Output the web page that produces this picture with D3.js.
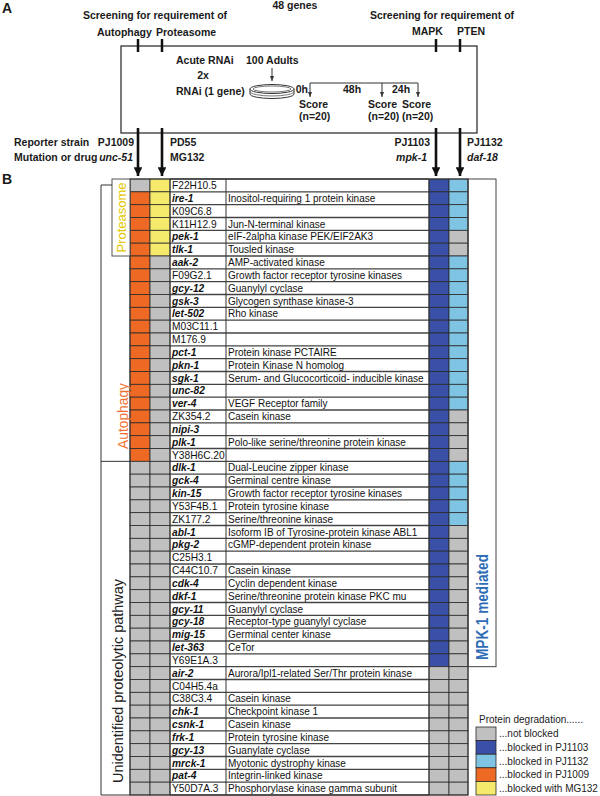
<html>
<head>
<meta charset="UTF-8">
<script src="https://unpkg.com/d3@7/dist/d3.min.js"></script>
<style>body{margin:0;background:#fff}</style>
</head>
<body>
<script>
// ---- data ----
var genes = ["F22H10.5","ire-1","K09C6.8","K11H12.9","pek-1","tlk-1","aak-2","F09G2.1","gcy-12","gsk-3",
  "let-502","M03C11.1","M176.9","pct-1","pkn-1","sgk-1","unc-82","ver-4","ZK354.2","nipi-3",
  "plk-1","Y38H6C.20","dlk-1","gck-4","kin-15","Y53F4B.1","ZK177.2","abl-1","pkg-2","C25H3.1",
  "C44C10.7","cdk-4","dkf-1","gcy-11","gcy-18","mig-15","let-363","Y69E1A.3","air-2","C04H5.4a",
  "C38C3.4","chk-1","csnk-1","frk-1","gcy-13","mrck-1","pat-4","Y50D7A.3"];

var descriptions = ["","Inositol-requiring 1 protein kinase","","Jun-N-terminal kinase","eIF-2alpha kinase PEK/EIF2AK3",
  "Tousled kinase","AMP-activated kinase","Growth factor receptor tyrosine kinases","Guanylyl cyclase","Glycogen synthase kinase-3",
  "Rho kinase","","","Protein kinase PCTAIRE","Protein Kinase N homolog",
  "Serum- and Glucocorticoid- inducible kinase","","VEGF Receptor family","Casein kinase","",
  "Polo-like serine/threonine protein kinase","","Dual-Leucine zipper kinase","Germinal centre kinase","Growth factor receptor tyrosine kinases",
  "Protein tyrosine kinase","Serine/threonine kinase","Isoform IB of Tyrosine-protein kinase ABL1","cGMP-dependent protein kinase","",
  "Casein kinase","Cyclin dependent kinase","Serine/threonine protein kinase PKC mu","Guanylyl cyclase","Receptor-type guanylyl cyclase",
  "Germinal center kinase","CeTor","","Aurora/Ipl1-related Ser/Thr protein kinase","",
  "Casein kinase","Checkpoint kinase 1","Casein kinase","Protein tyrosine kinase","Guanylate cyclase",
  "Myotonic dystrophy kinase","Integrin-linked kinase","Phosphorylase kinase gamma subunit"];

// 1 = degradation blocked, 0 = not blocked
var pj1009 = [0,1,1,1,1,1,1,1,1,1, 1,1,1,1,1,1,1,1,1,1, 1,1,0,0,0,0,0,0,0,0,
              0,0,0,0,0,0,0,0,0,0, 0,0,0,0,0,0,0,0];
var mg132  = [1,1,1,1,1,1,0,0,0,0, 0,0,0,0,0,0,0,0,0,0, 0,0,0,0,0,0,0,0,0,0,
              0,0,0,0,0,0,0,0,0,0, 0,0,0,0,0,0,0,0];
var pj1103 = [1,1,1,1,1,1,1,1,1,1, 1,1,1,1,1,1,1,1,1,1, 1,1,1,1,1,1,1,1,1,1,
              1,1,1,1,1,1,1,1,0,0, 0,0,0,0,0,0,0,0];
var pj1132 = [1,1,1,1,0,0,1,1,1,1, 1,1,1,1,1,1,1,1,0,0, 0,0,1,1,1,1,1,0,0,0,
              0,0,0,0,0,0,0,0,0,0, 0,0,0,0,0,0,0,0];

var groups = [
  {name: "Proteasome", first: 0, last: 5},
  {name: "Autophagy", first: 6, last: 21},
  {name: "Unidentified proteolytic pathway", first: 22, last: 47}
];
var mpkLabel = "MPK-1 mediated";
var legendTitle = "Protein degradation......";
var legendLabels = ["...not blocked","...blocked in PJ1103","...blocked in PJ1132","...blocked in PJ1009","...blocked with MG132"];

// ---- colors ----
var gray = "#c0c0c0", dblue = "#3a50a6", lblue = "#80c4e4", orange = "#ee6a24", yellow = "#f6ea6c";
var legendColors = [gray, dblue, lblue, orange, yellow];

var width = 600, height = 796;
var font = "'Liberation Sans', Arial, sans-serif";

var svg = d3.select("body").append("svg")
  .attr("width", width).attr("height", height)
  .style("font-family", font);

var defs = svg.append("defs");
defs.append("marker")
  .attr("id", "head").attr("viewBox", "0 0 10 10")
  .attr("refX", 10).attr("refY", 5)
  .attr("markerWidth", 3.4).attr("markerHeight", 3.4)
  .attr("markerUnits", "strokeWidth")
  .attr("orient", "auto")
  .append("path").attr("d", "M0,0L10,5L0,10z").attr("fill", "#111");
defs.append("marker")
  .attr("id", "thin").attr("viewBox", "0 0 10 10")
  .attr("refX", 10).attr("refY", 5)
  .attr("markerWidth", 5).attr("markerHeight", 5)
  .attr("markerUnits", "strokeWidth")
  .attr("orient", "auto")
  .append("path").attr("d", "M0,1L10,5L0,9z").attr("fill", "#333");

// ================= Panel A =================
var A = svg.append("g").attr("fill", "#1a1a1a").style("font-weight", "bold");

function txt(g, s, x, yy, opt) {
  opt = opt || {};
  return g.append("text").attr("x", x).attr("y", yy)
    .attr("text-anchor", opt.anchor || "start")
    .style("font-size", (opt.size || 10.5) + "px")
    .style("font-style", opt.italic ? "italic" : "normal")
    .text(s);
}

txt(A, "A", 2, 13, {size: 14});
txt(A, "B", 2, 184, {size: 14});
txt(A, "48 genes", 295, 9, {anchor: "middle"});
txt(A, "Screening for requirement of", 155, 19, {anchor: "middle"});
txt(A, "Screening for requirement of", 442, 19, {anchor: "middle"});
txt(A, "Autophagy", 97, 36);
txt(A, "Proteasome", 156, 36);
txt(A, "MAPK", 412, 35);
txt(A, "PTEN", 457, 35);

A.append("rect").attr("x", 121).attr("y", 46).attr("width", 356).attr("height", 87)
  .attr("fill", "none").attr("stroke", "#222").attr("stroke-width", 1.2);

var screenX = [138, 162, 436, 460];
A.selectAll(".tick").data(screenX).enter().append("line")
  .attr("x1", d => d).attr("x2", d => d).attr("y1", 39).attr("y2", 52)
  .attr("stroke", "#111").attr("stroke-width", 2.5);
A.selectAll(".arr").data(screenX).enter().append("line")
  .attr("x1", d => d).attr("x2", d => d).attr("y1", 128).attr("y2", 176)
  .attr("stroke", "#111").attr("stroke-width", 2.6)
  .attr("marker-end", "url(#head)");

txt(A, "Acute RNAi", 176, 64);
txt(A, "2x", 203, 79, {anchor: "middle"});
txt(A, "RNAi (1 gene)", 176, 95);
txt(A, "100 Adults", 246, 64);
A.append("line").attr("x1", 272).attr("x2", 272).attr("y1", 68).attr("y2", 81)
  .attr("stroke", "#333").attr("stroke-width", 1).attr("marker-end", "url(#thin)");
// dish
A.append("path").attr("d", "M250,89 L250,94 A22,4.5 0 0 0 294,94 L294,89")
  .attr("fill", "none").attr("stroke", "#333").attr("stroke-width", 1);
A.append("ellipse").attr("cx", 272).attr("cy", 89).attr("rx", 22).attr("ry", 4.5)
  .attr("fill", "#fff").attr("stroke", "#333").attr("stroke-width", 1);
A.append("ellipse").attr("cx", 272).attr("cy", 89).attr("rx", 19).attr("ry", 3)
  .attr("fill", "none").attr("stroke", "#555").attr("stroke-width", 0.8);
A.append("path").attr("d", "M250,91.5 A22,4.5 0 0 0 294,91.5")
  .attr("fill", "none").attr("stroke", "#555").attr("stroke-width", 0.8);

// timeline
var scoreX = [310, 382, 418];
A.append("line").attr("x1", 310).attr("x2", 418).attr("y1", 83).attr("y2", 83)
  .attr("stroke", "#333").attr("stroke-width", 1);
A.selectAll(".tl").data(scoreX).enter().append("line")
  .attr("x1", d => d).attr("x2", d => d).attr("y1", 83).attr("y2", 97)
  .attr("stroke", "#333").attr("stroke-width", 1).attr("marker-end", "url(#thin)");
txt(A, "0h", 308, 93, {anchor: "end"});
txt(A, "48h", 352, 93, {anchor: "middle"});
txt(A, "24h", 401, 93, {anchor: "middle"});
[299, 368, 402].forEach(function(x) {
  txt(A, "Score", x, 108);
  txt(A, "(n=20)", x, 120);
});

txt(A, "Reporter strain", 14, 146);
txt(A, "Mutation or drug", 14, 161);
txt(A, "PJ1009", 134, 146, {anchor: "end"});
txt(A, "unc-51", 133, 161, {anchor: "end", italic: true});
txt(A, "PD55", 170, 146);
txt(A, "MG132", 170, 161);
txt(A, "PJ1103", 430, 146, {anchor: "end"});
txt(A, "mpk-1", 427, 161, {anchor: "end", italic: true});
txt(A, "PJ1132", 467, 146);
txt(A, "daf-18", 467, 161, {italic: true});

// ================= Panel B =================
var tableTop = 179, tableBottom = 795;
var y = d3.scaleBand().domain(d3.range(genes.length)).range([tableTop, tableBottom]);
var h = y.bandwidth();

var xOrange = 130, xYellow = 150, xGene = 170, xDesc = 226, xBlue = 429, xLBlue = 449, xEnd = 468, xMpk = 496;
var cw = 20;

var B = svg.append("g");

var colorCols = [
  {vals: pj1009, x: xOrange, w: cw, on: orange},
  {vals: mg132, x: xYellow, w: cw, on: yellow},
  {vals: pj1103, x: xBlue, w: cw, on: dblue},
  {vals: pj1132, x: xLBlue, w: xEnd - xLBlue, on: lblue}
];
colorCols.forEach(function(c) {
  B.append("g").selectAll("rect").data(c.vals).enter().append("rect")
    .attr("x", c.x).attr("y", (d, i) => y(i))
    .attr("width", c.w).attr("height", h)
    .attr("fill", d => d ? c.on : gray)
    .attr("stroke", "#2a2a2a").attr("stroke-width", 0.8);
});

// row lines in text area
B.append("g").selectAll("line").data(d3.range(genes.length + 1)).enter().append("line")
  .attr("x1", xGene).attr("x2", xBlue)
  .attr("y1", i => i < genes.length ? y(i) : tableBottom)
  .attr("y2", i => i < genes.length ? y(i) : tableBottom)
  .attr("stroke", "#444").attr("stroke-width", 1.3);
[xGene, xDesc, xBlue].forEach(function(x) {
  B.append("line").attr("x1", x).attr("x2", x).attr("y1", tableTop).attr("y2", tableBottom)
    .attr("stroke", "#333").attr("stroke-width", 1);
});

B.append("g").selectAll("text").data(genes).enter().append("text")
  .attr("x", xGene + 2).attr("y", (d, i) => y(i) + h / 2 + 3.6)
  .style("font-size", "10.2px")
  .style("font-weight", d => /-/.test(d) ? "bold" : "normal")
  .style("font-style", d => /-/.test(d) ? "italic" : "normal")
  .attr("fill", "#111")
  .text(d => d);
B.append("g").selectAll("text").data(descriptions).enter().append("text")
  .attr("x", xDesc + 2).attr("y", (d, i) => y(i) + h / 2 + 3.6)
  .style("font-size", "10px").attr("fill", "#111")
  .text(d => d);

// outer frame
B.append("rect").attr("x", xOrange).attr("y", tableTop).attr("width", xEnd - xOrange).attr("height", tableBottom - tableTop)
  .attr("fill", "none").attr("stroke", "#333").attr("stroke-width", 1);

// group brackets
var bx = 101;
var g0 = groups[0], g1 = groups[1], g2 = groups[2];
B.append("rect").attr("x", 112).attr("y", y(g0.first))
  .attr("width", xOrange - 112).attr("height", y(g0.last) + h - y(g0.first))
  .attr("fill", "#fff").attr("stroke", "#555").attr("stroke-width", 1);
B.append("path")
  .attr("d", "M112," + (tableTop + 6) + "H" + bx + "V" + tableBottom + "H" + xOrange +
             "M" + bx + "," + (y(g2.first)) + "H" + xOrange)
  .attr("fill", "none").attr("stroke", "#333").attr("stroke-width", 1);

function vlabel(s, cx, cy, size, color, weight, len) {
  var t = B.append("text")
    .attr("transform", "translate(" + cx + "," + cy + ") rotate(-90)")
    .attr("text-anchor", "middle").attr("dy", "0.35em")
    .style("font-size", size + "px").style("font-weight", weight)
    .attr("fill", color).text(s);
  if (len) t.attr("textLength", len).attr("lengthAdjust", "spacingAndGlyphs");
  return t;
}
vlabel(g0.name, 121, (y(g0.first) + y(g0.last) + h) / 2, 13.5, "#e2c800", "normal", 70);
vlabel(g1.name, 123, 416, 14, "#f07030", "normal", 66);
vlabel(g2.name, 118, 681, 15, "#222", "normal", 204);

// MPK-1 box
var lastMpk = d3.max(d3.range(pj1103.length).filter(i => pj1103[i]));
B.append("rect").attr("x", xEnd).attr("y", tableTop).attr("width", xMpk - xEnd)
  .attr("height", y(lastMpk) + h - tableTop)
  .attr("fill", "none").attr("stroke", "#444").attr("stroke-width", 1);
vlabel(mpkLabel, 482, 607, 16, "#2e6db6", "bold", 106);

// legend
var L = svg.append("g");
L.append("text").attr("x", 479).attr("y", 723).style("font-size", "10px").attr("fill", "#222").text(legendTitle);
var ly = d3.scaleBand().domain(d3.range(legendLabels.length)).range([727, 795]);
L.append("g").selectAll("rect").data(legendColors).enter().append("rect")
  .attr("x", 476).attr("y", (d, i) => ly(i)).attr("width", 20).attr("height", ly.bandwidth())
  .attr("fill", d => d).attr("stroke", "#2a2a2a").attr("stroke-width", 0.8);
L.append("g").selectAll("text").data(legendLabels).enter().append("text")
  .attr("x", 499).attr("y", (d, i) => ly(i) + ly.bandwidth() / 2 + 3.6)
  .style("font-size", "10px").attr("fill", "#222").text(d => d);
</script>
</body>
</html>
